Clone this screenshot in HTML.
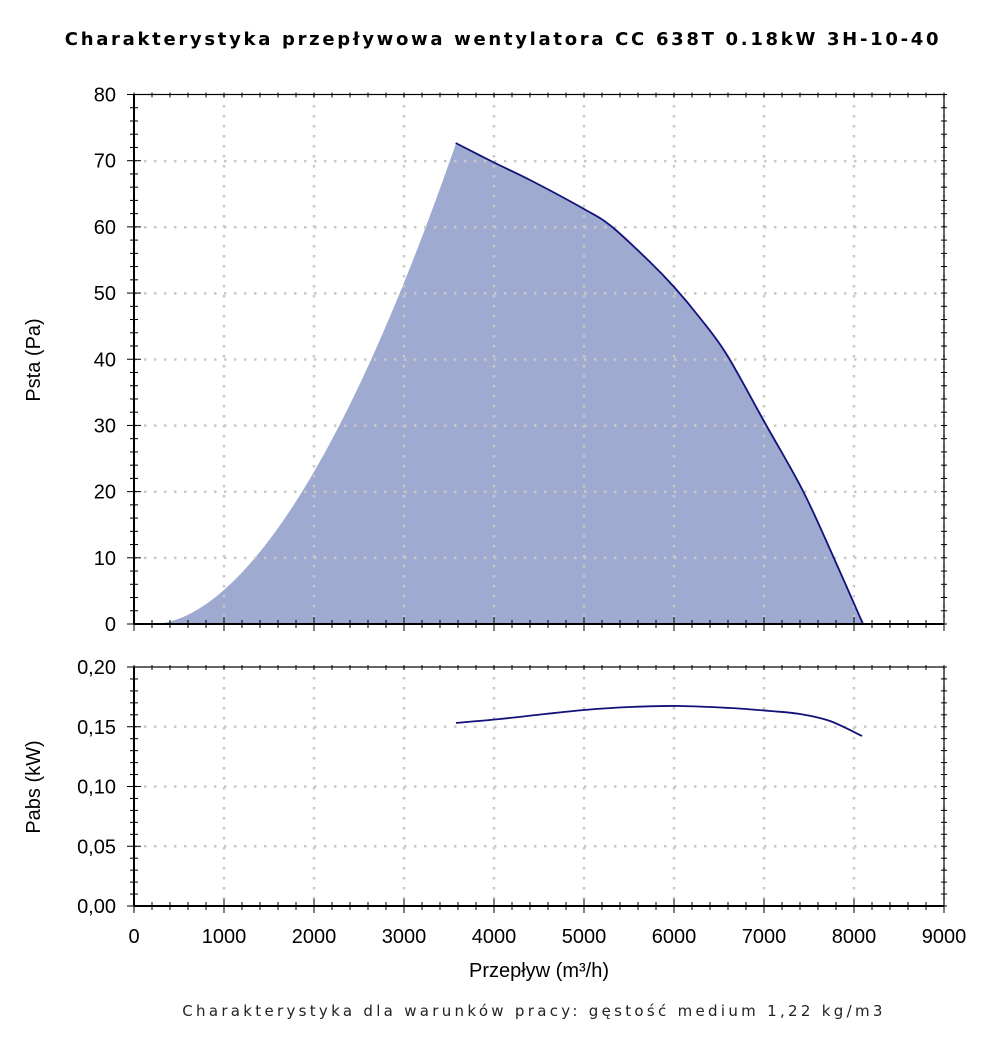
<!DOCTYPE html><html><head><meta charset="utf-8"><style>body{margin:0;background:#fff}svg{display:block}</style></head><body>
<svg id="s" width="1000" height="1062" xmlns="http://www.w3.org/2000/svg" font-family="Liberation Sans, DejaVu Sans, sans-serif">
<text x="503" y="45" text-anchor="middle" font-size="18" font-weight="bold" letter-spacing="2.7" font-family="DejaVu Sans, sans-serif">Charakterystyka przepływowa wentylatora CC 638T 0.18kW 3H-10-40</text>
<text x="534" y="1016" text-anchor="middle" font-size="15" letter-spacing="3.3" fill="#222" font-family="DejaVu Sans, sans-serif">Charakterystyka dla warunków pracy: gęstość medium 1,22 kg/m3</text>
<text x="539" y="977" text-anchor="middle" font-size="20">Przepływ (m³/h)</text>
<text transform="translate(40,360) rotate(-90)" text-anchor="middle" font-size="20">Psta (Pa)</text>
<text transform="translate(40,787) rotate(-90)" text-anchor="middle" font-size="20">Pabs (kW)</text>
<g id="g"></g>
</svg>
<script>
const g=document.getElementById('g');let h='';
const X=q=>134+q*0.09;
const Y1=p=>624-p*6.6125, Y2=p=>906-p*1195;
function cr(P){let s='';for(let i=0;i<P.length-1;i++){const p0=P[Math.max(0,i-1)],p1=P[i],p2=P[i+1],p3=P[Math.min(P.length-1,i+2)];
const c1=[p1[0]+(p2[0]-p0[0])/6,p1[1]+(p2[1]-p0[1])/6],c2=[p2[0]-(p3[0]-p1[0])/6,p2[1]-(p3[1]-p1[1])/6];
s+=` C${c1[0].toFixed(1)} ${c1[1].toFixed(1)} ${c2[0].toFixed(1)} ${c2[1].toFixed(1)} ${p2[0].toFixed(1)} ${p2[1].toFixed(1)}`;}return s;}
let rise=[];for(let q=222;q<=3578;q+=30){rise.push([X(q),Y1(72.7*Math.pow((q-222)/3356,1.81))]);}
rise.push([X(3578),Y1(72.7)]);
const desc=[[455.7,143],[493,162],[530,180],[584,209],[611,226],[650,262],[675,288],[700,318],[727,355],[765,423],[803,491],[833,556],[863,624]];
let d='M'+rise.map(p=>p[0].toFixed(1)+' '+p[1].toFixed(1)).join(' L')+' L'+desc[0][0]+' '+desc[0][1]+cr(desc)+' Z';
h+=`<path d="${d}" fill="#9eaad0"/>`;
function grid(top,bot,ys){for(let i=1;i<=9;i++){h+=`<line x1="${X(i*1000)}" y1="${top}" x2="${X(i*1000)}" y2="${bot}" stroke="#c8c8c8" stroke-width="2.5" stroke-dasharray="2.5 7.5"/>`;}
ys.forEach(y=>h+=`<line x1="134" y1="${y}" x2="944" y2="${y}" stroke="#c8c8c8" stroke-width="2.5" stroke-dasharray="2.5 7.5"/>`);}
grid(95,624,[1,2,3,4,5,6,7].map(v=>Y1(v*10)));
grid(667,906,[1,2,3].map(v=>Y2(v*0.05)));
h+=`<path d="M${desc[0][0]} ${desc[0][1]}${cr(desc)}" fill="none" stroke="#12127a" stroke-width="1.8"/>`;
const bp=[[456,723],[500,719],[545,714],[584,710],[630,707],[680,706],[730,708],[770,711],[800,714],[830,721],[862,736]];
h+=`<path d="M${bp[0][0]} ${bp[0][1]}${cr(bp)}" fill="none" stroke="#12127a" stroke-width="1.8"/>`;
function frame(top,bot,fmt,nmaj){
h+=`<rect x="134" y="${top}" width="810" height="${bot-top}" fill="none" stroke="#000" stroke-width="1.2"/>`;
h+=`<line x1="134" y1="${bot}" x2="944" y2="${bot}" stroke="#000" stroke-width="2"/><line x1="134" y1="${top}" x2="134" y2="${bot}" stroke="#000" stroke-width="2"/>`;
for(let q=0;q<=9000;q+=200){let x=X(q),maj=q%1000==0;
h+=`<line x1="${x}" y1="${bot-(maj?7:4)}" x2="${x}" y2="${bot+(maj?7:4)}" stroke="#000"/>`;
h+=`<line x1="${x}" y1="${top-2}" x2="${x}" y2="${top+3}" stroke="#000"/>`;}
let n=nmaj*5;for(let i=0;i<=n;i++){let y=bot-(bot-top)*i/n,maj=i%5==0;
h+=`<line x1="${134-(maj?7:4)}" y1="${y}" x2="${134+(maj?7:4)}" y2="${y}" stroke="#000"/>`;
h+=`<line x1="941" y1="${y}" x2="947" y2="${y}" stroke="#000"/>`;
if(maj)h+=`<text x="116" y="${y+7}" text-anchor="end" font-size="20">${fmt(i/5)}</text>`;}}
frame(94.5,624,i=>i*10,8);
frame(667,906,i=>(i*0.05).toFixed(2).replace('.',','),4);
for(let i=0;i<=9;i++)h+=`<text x="${X(i*1000)}" y="943" text-anchor="middle" font-size="20">${i*1000}</text>`;
g.innerHTML=h;
</script></body></html>
